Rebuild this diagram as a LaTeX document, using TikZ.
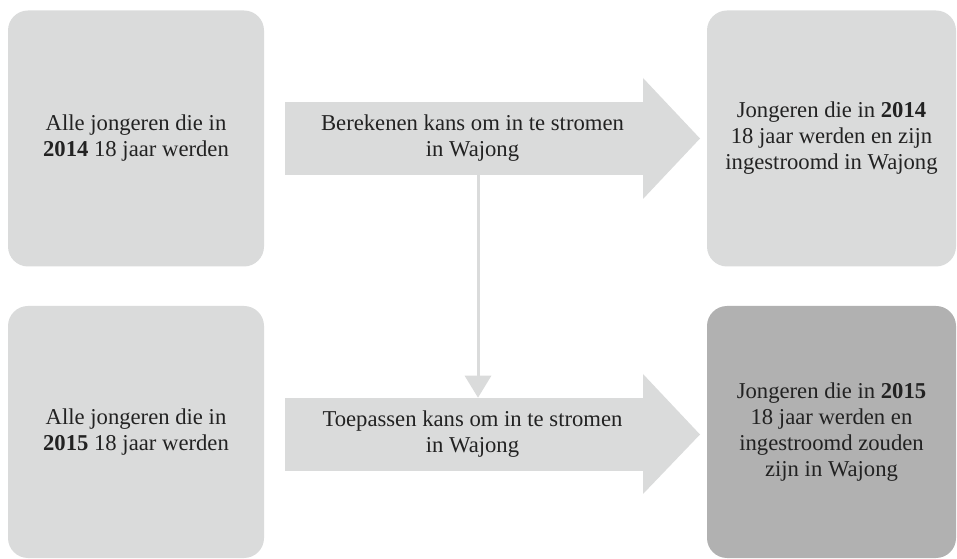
\documentclass[tikz,border=0pt]{standalone}
\usepackage{fontspec}
\setmainfont{Liberation Serif}
\usetikzlibrary{arrows.meta}
\definecolor{boxlight}{HTML}{DADBDB}
\definecolor{boxdark}{HTML}{B1B1B1}
\definecolor{txt}{HTML}{222222}
\tikzset{
  stagebox/.style={fill=#1, rounded corners=15pt, inner sep=0pt, align=center,
    text=txt, font=\fontsize{17}{19.5}\selectfont},
  body/.style={fill=boxlight, inner sep=0pt, align=center, text=txt,
    minimum width=281.25pt, minimum height=54.75pt, font=\fontsize{17}{19.5}\selectfont},
  head/.style={fill=boxlight},
  conn/.style={draw=boxlight, line width=2.25pt, -{Triangle[width=19.5pt,length=16.5pt]}}
}
\begin{document}
\begin{tikzpicture}[x=0.75pt,y=-0.75pt]
\useasboundingbox (0,0) rectangle (957,559);
% boxes
\node[stagebox=boxlight, minimum width=192pt, minimum height=192pt] (tl) at (136,138.5)
  {Alle jongeren die in\\\textbf{2014} 18 jaar werden};
\node[stagebox=boxlight, minimum width=186.75pt, minimum height=192pt] (tr) at (831.5,138.5)
  {Jongeren die in \textbf{2014}\\18 jaar werden en zijn\\ingestroomd in Wajong};
\node[stagebox=boxlight, minimum width=192pt, minimum height=189pt] (bl) at (136,432)
  {Alle jongeren die in\\\textbf{2015} 18 jaar werden};
\node[stagebox=boxdark, minimum width=186.75pt, minimum height=189pt] (br) at (831.5,432)
  {Jongeren die in \textbf{2015}\\18 jaar werden en\\ingestroomd zouden\\zijn in Wajong};
% big arrows
\fill[head] (643,78) -- (700,138.5) -- (643,199) -- cycle;
\node[body] (a1) at (472.5,138.5) {Berekenen kans om in te stromen\\in Wajong};
\fill[head] (643,374) -- (700,434.5) -- (643,494) -- cycle;
\node[body] (a2) at (472.5,434.5) {Toepassen kans om in te stromen\\in Wajong};
% connector
\coordinate (vx) at (478,0);
\draw[conn] (a1.south -| vx) -- (a2.north -| vx);
\end{tikzpicture}
\end{document}
